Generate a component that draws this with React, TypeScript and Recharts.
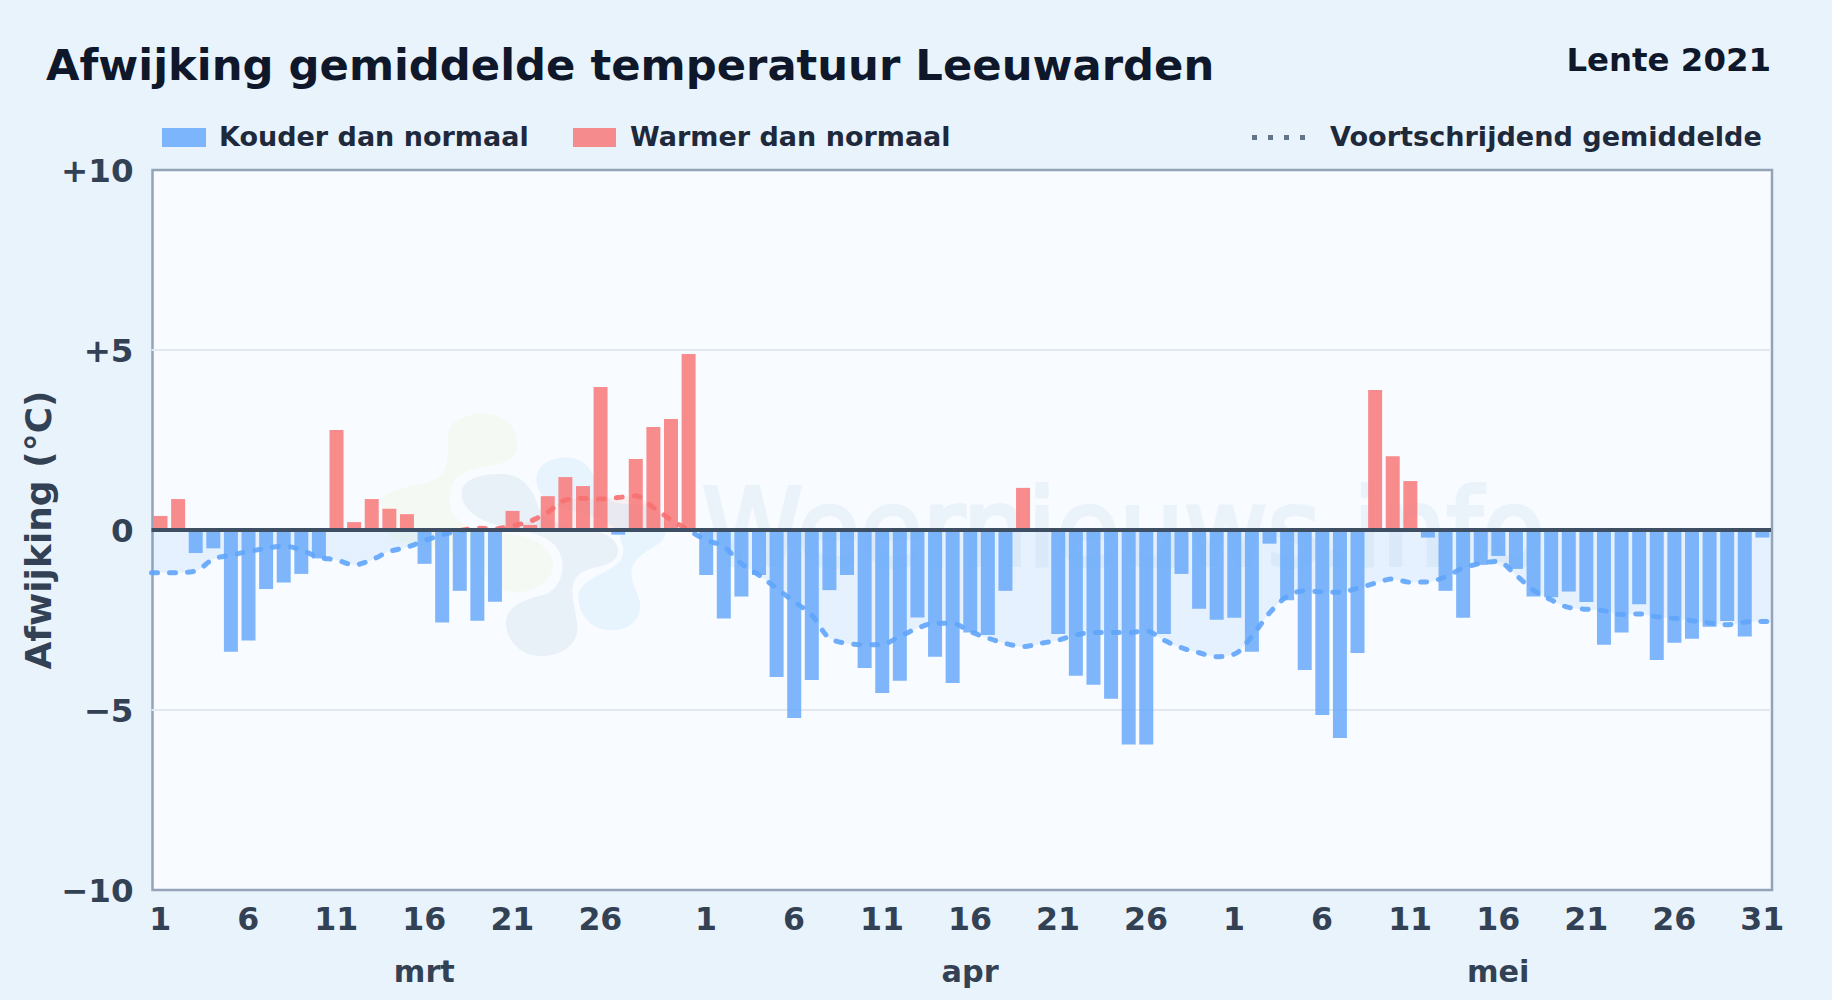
import React from "react";
import { ComposedChart, Bar, Line, Area, XAxis, YAxis, CartesianGrid, ReferenceLine, Legend } from "recharts";

const FONT = "'DejaVu Sans', sans-serif";
const monthDays = [31, 30, 31];
const monthNames = ["mrt", "apr", "mei"];
const dayTicks = [1, 6, 11, 16, 21, 26];
const mayExtraTick = 31;
const yTicks = [-10, -5, 0, 5, 10];
const gridValues = [-5, 5];

const marchDeviation = [0.39, 0.86, -0.64, -0.51, -3.38, -3.07, -1.64, -1.46, -1.22, -0.79, 2.78, 0.22, 0.86, 0.59, 0.44, -0.94, -2.57, -1.69, -2.52, -1.99, 0.53, 0.14, 0.94, 1.47, 1.22, 3.97, -0.13, 1.97, 2.86, 3.08, 4.89];
const aprilDeviation = [-1.25, -2.46, -1.85, -1.25, -4.08, -5.22, -4.17, -1.67, -1.25, -3.83, -4.53, -4.19, -2.43, -3.52, -4.25, -2.85, -2.92, -1.69, 1.17, 0, -2.89, -4.05, -4.3, -4.69, -5.96, -5.96, -2.89, -1.22, -2.19, -2.49];
const mayDeviation = [-2.44, -3.38, -0.38, -1.95, -3.89, -5.14, -5.78, -3.42, 3.89, 2.05, 1.36, -0.21, -1.69, -2.44, -0.97, -0.72, -1.08, -1.85, -1.87, -1.71, -2.0, -3.19, -2.85, -2.06, -3.61, -3.13, -3.02, -2.69, -2.53, -2.96, -0.21];

const marchAverage = [-1.19, -1.19, -1.14, -0.81, -0.7, -0.6, -0.51, -0.45, -0.55, -0.76, -0.83, -0.97, -0.83, -0.6, -0.48, -0.3, -0.14, -0.02, 0.05, 0.03, 0.12, 0.24, 0.49, 0.83, 0.88, 0.86, 0.9, 0.95, 0.63, 0.29, 0.0];
const aprilAverage = [-0.28, -0.46, -0.93, -1.25, -1.62, -1.99, -2.36, -3.0, -3.15, -3.19, -3.18, -2.96, -2.73, -2.59, -2.59, -2.82, -3.0, -3.15, -3.24, -3.15, -3.06, -2.92, -2.85, -2.85, -2.85, -2.8, -3.06, -3.27, -3.41, -3.52];
const mayAverage = [-3.45, -2.96, -2.31, -1.85, -1.69, -1.72, -1.73, -1.62, -1.48, -1.36, -1.45, -1.44, -1.3, -1.06, -0.93, -0.87, -1.25, -1.67, -1.94, -2.15, -2.2, -2.24, -2.35, -2.33, -2.41, -2.45, -2.52, -2.58, -2.63, -2.56, -2.54];

const deviation = [...marchDeviation, ...aprilDeviation, ...mayDeviation];
const average = [...marchAverage, ...aprilAverage, ...mayAverage];

const dayLabels: number[] = [];
const monthStarts: number[] = [];
monthDays.forEach((n) => {
  monthStarts.push(dayLabels.length);
  for (let d = 1; d <= n; d++) dayLabels.push(d);
});

const table = deviation.map((v, i) => ({
  idx: i,
  cold: v < 0 ? v : null,
  warm: v > 0 ? v : null,
}));

// The smoothed curve runs from plot edge to plot edge, half a day beyond the first and last bar.
const curve = [
  { x: -0.5, avg: average[0] },
  ...average.map((avg, x) => ({ x, avg })),
  { x: average.length - 0.5, avg: average[average.length - 1] },
];

const dayTickIdx: number[] = [];
monthStarts.forEach((s) => dayTicks.forEach((d) => dayTickIdx.push(s + d - 1)));
dayTickIdx.push(monthStarts[2] + mayExtraTick - 1);
const monthTickIdx = monthStarts.map((s) => s + 15);

const maxAvg = Math.max(...average);
const minAvg = Math.min(...average);
const zeroOffset = maxAvg / (maxAvg - minAvg);

const legendText: React.CSSProperties = { position: "absolute", top: 0, lineHeight: "30px", fontSize: 27, fontWeight: 700, color: "#1e293b", fontFamily: FONT, whiteSpace: "nowrap" };

function ChartLegend() {
  return (
    <div style={{ position: "relative", width: 1832, height: 30 }}>
      <div style={{ position: "absolute", left: 162, top: 6, width: 44, height: 19, background: "#60a5fa", opacity: 0.8 }} />
      <div style={{ ...legendText, left: 219 }}>Kouder dan normaal</div>
      <div style={{ position: "absolute", left: 573, top: 6, width: 43, height: 19, background: "#f87171", opacity: 0.8 }} />
      <div style={{ ...legendText, left: 630 }}>Warmer dan normaal</div>
      <svg style={{ position: "absolute", left: 1250, top: 0 }} width={60} height={30}>
        <line x1={2} x2={58} y1={15.5} y2={15.5} stroke="#64748b" strokeWidth={5} strokeDasharray="5 11" />
      </svg>
      <div style={{ ...legendText, left: 1330, fontSize: 27.1 }}>Voortschrijdend gemiddelde</div>
    </div>
  );
}

export default function App() {
  return (
    <div style={{ position: "fixed", left: 0, top: 0, width: 1832, height: 1000, background: "#e9f3fc", overflow: "hidden", fontFamily: FONT }}>
      <div style={{ position: "absolute", left: 46, top: 36, fontSize: 43.3, fontWeight: 700, color: "#0f172a", whiteSpace: "nowrap", lineHeight: "58px" }}>
        Afwijking gemiddelde temperatuur Leeuwarden
      </div>
      <div style={{ position: "absolute", right: 61, top: 40, fontSize: 32.4, fontWeight: 700, color: "#0f172a", whiteSpace: "nowrap", lineHeight: "40px" }}>
        Lente 2021
      </div>
      <svg style={{ position: "absolute", left: 0, top: 0 }} width={1832} height={1000}>
        <rect x={152.5} y={170} width={1619.5} height={720} fill="#f8fbff" stroke="#94a3b8" strokeWidth={2.5} />
        <g transform="translate(360 390) scale(0.3333)">
          <path fill="#f4faf3" d="M 265 130 C 270 85 340 65 390 72 C 450 80 480 130 470 180 C 460 225 390 225 330 240 C 285 255 265 290 270 340 C 275 390 330 420 380 430 C 450 425 560 440 578 510 C 590 580 510 615 450 605 C 400 600 390 560 340 520 C 290 480 160 470 100 450 C 70 420 55 350 70 320 C 100 290 190 290 230 265 C 270 240 262 180 265 130 Z" />
          <path fill="#e8f4fd" stroke="#f8fbff" strokeWidth={30} paintOrder="stroke" d="M 530 260 C 535 215 590 195 640 205 C 690 215 700 260 730 310 C 760 360 830 330 880 350 C 930 380 930 440 890 465 C 850 490 810 510 815 560 C 820 600 845 620 840 660 C 830 710 780 725 740 720 C 690 715 655 670 655 620 C 660 570 720 560 760 530 C 800 500 790 440 760 410 C 730 380 650 370 600 350 C 550 330 525 300 530 260 Z" />
          <path fill="#e8f0f8" stroke="#f8fbff" strokeWidth={30} paintOrder="stroke" d="M 305 310 C 305 265 370 250 430 252 C 490 255 520 300 535 350 C 555 400 640 420 700 425 C 760 430 785 470 770 500 C 750 535 680 525 650 560 C 620 600 650 660 652 710 C 655 760 610 795 550 798 C 490 800 440 760 438 700 C 437 650 490 630 550 615 C 600 600 620 540 600 490 C 580 440 500 420 430 410 C 360 395 305 360 305 310 Z" />
        </g>
        <text x={702} y={565} fontSize={107} fontFamily={FONT} fontWeight={400} fill="#ebf3fa" stroke="#ebf3fa" strokeWidth={4} textLength={843} lengthAdjust="spacingAndGlyphs">Weernieuws.info</text>
      </svg>
      <div style={{ position: "absolute", left: 0, top: 0 }}>
        <ComposedChart width={1832} height={1000} data={table} barCategoryGap={0} barGap={0} margin={{ top: 140, right: 61, bottom: 36, left: 91.5 }}>
          <defs>
            <linearGradient id="avgStroke" x1="0" y1="0" x2="0" y2="1">
              <stop offset={zeroOffset} stopColor="#f87171" />
              <stop offset={zeroOffset} stopColor="#60a5fa" />
            </linearGradient>
            <linearGradient id="avgFill" x1="0" y1="0" x2="0" y2="1">
              <stop offset={zeroOffset} stopColor="#f87171" stopOpacity={0.14} />
              <stop offset={zeroOffset} stopColor="#60a5fa" stopOpacity={0.2} />
            </linearGradient>
          </defs>
          <CartesianGrid vertical={false} horizontalValues={gridValues} stroke="#e2e8f0" strokeWidth={2} fill="none" />
          <XAxis dataKey="idx" type="category" ticks={dayTickIdx} interval={0} tickLine={false} axisLine={false} height={34} tickMargin={12}
            tickFormatter={(i: number) => String(dayLabels[i])}
            tick={{ fontSize: 31.6, fontWeight: 700, fill: "#334155", fontFamily: FONT }} />
          <XAxis xAxisId="month" dataKey="idx" type="category" ticks={monthTickIdx} interval={0} tickLine={false} axisLine={false} height={40} tickMargin={0.5}
            tickFormatter={(i: number) => monthNames[monthTickIdx.indexOf(i)]}
            tick={{ fontSize: 30.3, fontWeight: 700, fill: "#334155", fontFamily: FONT }} />
          <XAxis xAxisId="curve" type="number" dataKey="x" domain={[-0.5, deviation.length - 0.5]} hide />
          <YAxis type="number" domain={[-10, 10]} ticks={yTicks} interval={0} width={60} tickLine={false} axisLine={false} tickMargin={12}
            tickFormatter={(v: number) => (v > 0 ? `+${v}` : v < 0 ? `\u2212${-v}` : "0")}
            tick={{ fontSize: 32.5, fontWeight: 700, fill: "#334155", fontFamily: FONT }} />
          <Legend verticalAlign="top" align="left" content={<ChartLegend />} wrapperStyle={{ position: "absolute", left: 0, top: 122, width: 1832 }} />
          <Area xAxisId="curve" data={curve} dataKey="avg" type="monotone" baseValue={0} stroke="none" fill="url(#avgFill)" dot={false} activeDot={false} isAnimationActive={false} legendType="none" />
          <Bar dataKey="cold" stackId="dev" barSize={14} fill="#60a5fa" fillOpacity={0.8} isAnimationActive={false} />
          <Bar dataKey="warm" stackId="dev" barSize={14} fill="#f87171" fillOpacity={0.8} isAnimationActive={false} />
          <Line xAxisId="curve" data={curve} dataKey="avg" type="monotone" stroke="url(#avgStroke)" strokeWidth={5} strokeOpacity={0.9} strokeLinecap="round" strokeDasharray="6 12" dot={false} activeDot={false} isAnimationActive={false} legendType="none" />
          <ReferenceLine y={0} stroke="#3f4f63" strokeWidth={4} />
        </ComposedChart>
      </div>
      <div style={{ position: "absolute", left: 38, top: 530, transform: "translate(-50%,-50%) rotate(-90deg)", fontSize: 36, fontWeight: 700, color: "#334155", whiteSpace: "nowrap" }}>
        Afwijking (°C)
      </div>
    </div>
  );
}
